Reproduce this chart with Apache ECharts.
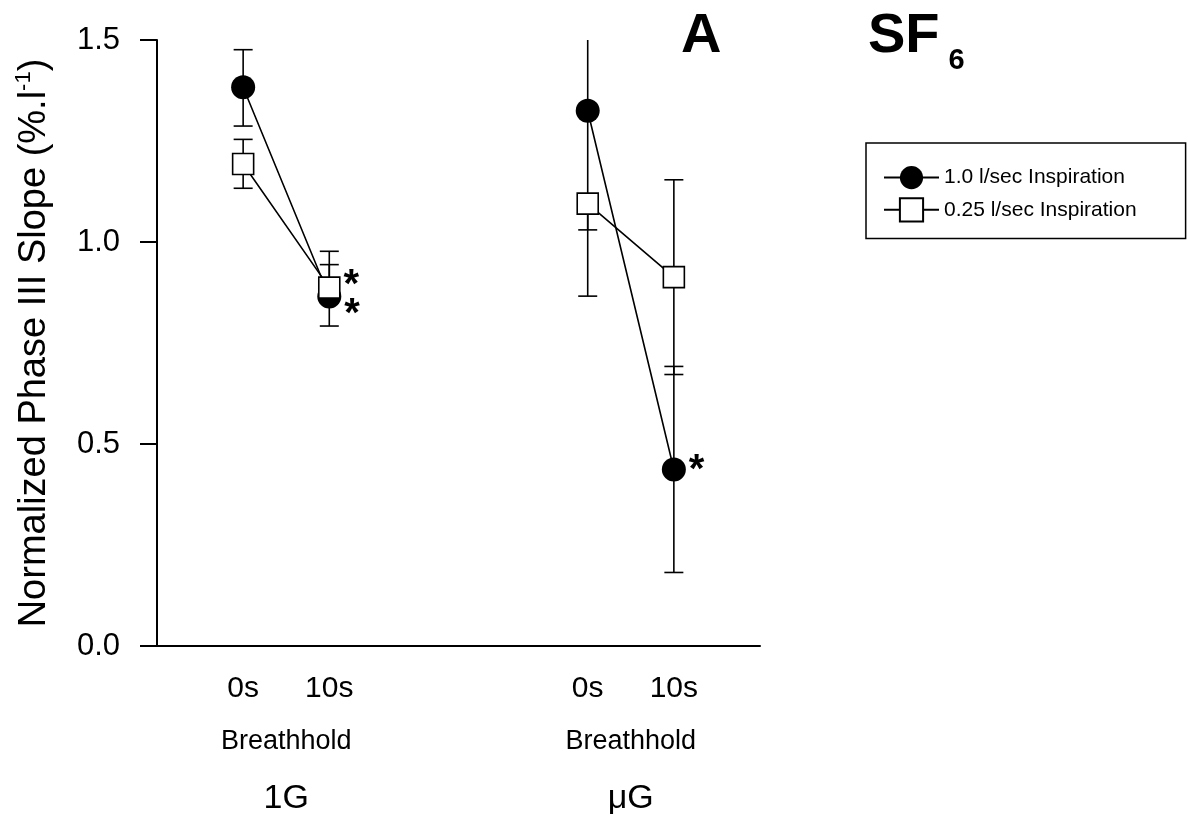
<!DOCTYPE html>
<html><head><meta charset="utf-8">
<script src="https://cdn.jsdelivr.net/npm/echarts@6/dist/echarts.min.js"></script>
<style>html,body{margin:0;padding:0;background:#fff}#c{width:1188px;height:816px}</style>
</head><body><div id="c"></div>
<script>
// ---- data ----
const xPositions = [1, 2, 5, 6];
const timeLabels = ['0s', '10s', '0s', '10s'];
const groupPositions = [1.5, 5.5];
const groupLabels = ['1G', 'μG'];
const groupSubLabel = 'Breathhold';
const seriesNames = ['1.0 l/sec Inspiration', '0.25 l/sec Inspiration'];
const fastMean = [1.383, 0.865, 1.325, 0.437];
const fastLow  = [1.287, 0.792, 0.866, 0.182];
const fastHigh = [1.476, 0.944, 1.508, 0.692];
const slowMean = [1.193, 0.887, 1.095, 0.913];
const slowLow  = [1.133, 0.850, 1.030, 0.672];
const slowHigh = [1.254, 0.977, 1.100, 1.154];
const fastSignificant = [false, true, false, true];
const slowSignificant = [false, true, false, false];
const yTickValues = [0, 0.5, 1.0, 1.5];

// ---- build ----
const FONT = '"Liberation Sans", Arial, Helvetica, sans-serif';
const fastStarOffset = [0, 18];
const slowStarOffset = [0, -2];
const fastStarOffset2 = [0, 2];

function lineData(mean, sig, offsetFor) {
  const out = [];
  for (let i = 0; i < mean.length; i++) {
    const item = { value: [xPositions[i], mean[i]] };
    if (sig[i]) {
      item.label = { show: true, formatter: '*', position: 'right', distance: 3,
        offset: offsetFor(i), fontSize: 40, fontWeight: 'bold', color: '#000', fontFamily: FONT };
    }
    out.push(item);
    if (i === 1) out.push({ value: [3.5, '-'] });
  }
  return out;
}
function errData(low, high) {
  return xPositions.map((x, i) => [x, low[i], high[i]]);
}
function renderErr(params, api) {
  const x = api.value(0);
  const pLo = api.coord([x, api.value(1)]);
  const pHi = api.coord([x, api.value(2)]);
  const hw = 9.5;
  const style = { stroke: '#000', lineWidth: 1.6 };
  return { type: 'group', children: [
    { type: 'line', shape: { x1: pLo[0], y1: pLo[1], x2: pHi[0], y2: pHi[1] }, style },
    { type: 'line', shape: { x1: pLo[0] - hw, y1: pLo[1], x2: pLo[0] + hw, y2: pLo[1] }, style },
    { type: 'line', shape: { x1: pHi[0] - hw, y1: pHi[1], x2: pHi[0] + hw, y2: pHi[1] }, style }
  ]};
}
function near(a, b) { return Math.abs(a - b) < 1e-6; }

const baseX = { type: 'value', min: 0, max: 7, position: 'bottom', offset: 0,
  splitLine: { show: false }, axisTick: { show: false } };

const chart = echarts.init(document.getElementById('c'), null, { renderer: 'canvas' });
chart.setOption({
  animation: false,
  backgroundColor: '#fff',
  textStyle: { fontFamily: FONT, color: '#000' },
  title: [
    { text: 'A', left: 681, top: 9, padding: 0,
      textStyle: { fontSize: 56, fontWeight: 'bold', color: '#000', fontFamily: FONT } },
    { text: 'SF{s|6}', left: 868, top: 9, padding: 0,
      textStyle: { fontSize: 56, fontWeight: 'bold', color: '#000', fontFamily: FONT,
        rich: { s: { fontSize: 29, fontWeight: 'bold', color: '#000', fontFamily: FONT, verticalAlign: 'bottom', padding: [0, 0, -10, 9] } } } }
  ],
  legend: {
    orient: 'vertical', left: 866, top: 143,
    padding: [23, 49, 16, 17],
    itemWidth: 55, itemHeight: 29, itemGap: 8,
    borderColor: '#000', borderWidth: 1.5, borderRadius: 0,
    textStyle: { fontSize: 21, color: '#000', fontFamily: FONT },
    data: seriesNames
  },
  grid: { left: 157, right: 428, top: 40, bottom: 169, containLabel: false },
  xAxis: [
    Object.assign({}, baseX, {
      interval: 1,
      axisLine: { show: true, lineStyle: { color: '#000', width: 2 } },
      axisLabel: { fontSize: 30, color: '#000', margin: 28, fontFamily: FONT,
        formatter: v => { const i = xPositions.findIndex(p => near(p, v)); return i >= 0 ? timeLabels[i] : ''; } }
    }),
    Object.assign({}, baseX, {
      interval: 0.5,
      axisLine: { show: false },
      axisLabel: { fontSize: 27, color: '#000', margin: 82, fontFamily: FONT,
        formatter: v => groupPositions.some(p => near(p, v)) ? groupSubLabel : '' }
    }),
    Object.assign({}, baseX, {
      interval: 0.5,
      axisLine: { show: false },
      axisLabel: { fontSize: 34, color: '#000', margin: 136, fontFamily: FONT,
        formatter: v => { const i = groupPositions.findIndex(p => near(p, v)); return i >= 0 ? groupLabels[i] : ''; } }
    })
  ],
  yAxis: {
    type: 'value', min: yTickValues[0], max: yTickValues[yTickValues.length - 1], interval: 0.5,
    axisLine: { show: true, lineStyle: { color: '#000', width: 2 } },
    axisTick: { show: true, length: 17, lineStyle: { color: '#000', width: 2 } },
    splitLine: { show: false },
    axisLabel: { fontSize: 31, color: '#000', margin: 37, fontFamily: FONT, formatter: v => v.toFixed(1) },
    name: 'Normalized Phase III Slope (%.l{sup|-1})',
    nameLocation: 'middle', nameRotate: 90, nameGap: 100,
    nameTextStyle: { fontSize: 38, color: '#000', fontFamily: FONT, lineHeight: 44,
      rich: { sup: { fontSize: 22, color: '#000', fontFamily: FONT, verticalAlign: 'top', lineHeight: 44 } } }
  },
  series: [
    { type: 'custom', name: 'err-fast', xAxisIndex: 0, renderItem: renderErr, clip: true, z: 1,
      encode: { x: 0, y: [1, 2] }, data: errData(fastLow, fastHigh), silent: true },
    { type: 'custom', name: 'err-slow', xAxisIndex: 0, renderItem: renderErr, clip: true, z: 1,
      encode: { x: 0, y: [1, 2] }, data: errData(slowLow, slowHigh), silent: true },
    { type: 'line', name: seriesNames[0], xAxisIndex: 0, z: 3,
      symbol: 'circle', symbolSize: 24, connectNulls: false,
      itemStyle: { color: '#000' }, lineStyle: { color: '#000', width: 1.6 },
      data: lineData(fastMean, fastSignificant, i => i === 1 ? fastStarOffset : fastStarOffset2) },
    { type: 'line', name: seriesNames[1], xAxisIndex: 0, z: 4,
      symbol: 'rect', symbolSize: 21, connectNulls: false,
      itemStyle: { color: '#fff', borderColor: '#000', borderWidth: 1.6 }, lineStyle: { color: '#000', width: 1.6 },
      data: lineData(slowMean, slowSignificant, i => slowStarOffset) }
  ]
});
</script></body></html>
